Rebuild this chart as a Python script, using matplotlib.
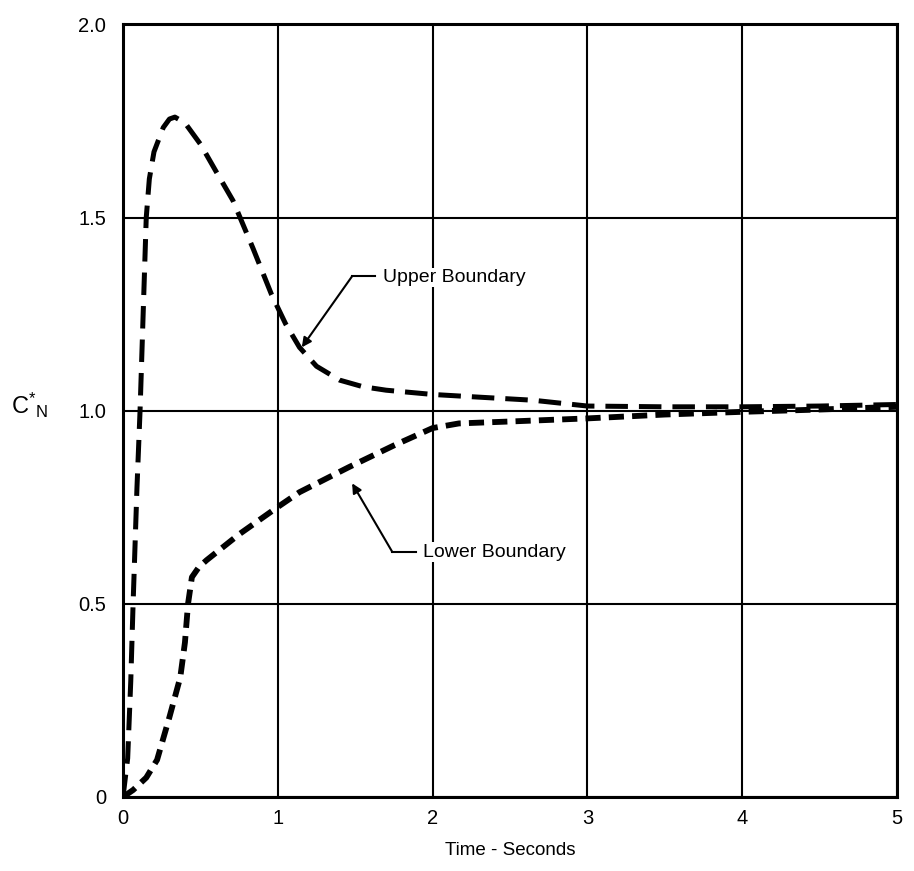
import matplotlib.pyplot as plt

plt.rcParams['font.family'] = ['Liberation Sans', 'DejaVu Sans']
plt.rcParams['mathtext.fontset'] = 'custom'
plt.rcParams['mathtext.rm'] = 'Liberation Sans'

# values
upper_t = [0, 0.03, 0.05, 0.065, 0.09, 0.11, 0.13, 0.15, 0.17, 0.2, 0.26, 0.3, 0.335,
           0.4, 0.5, 0.6, 0.71, 0.84, 0.96, 1.05, 1.14, 1.25, 1.4, 1.55, 1.7, 2.0, 2.3,
           2.65, 3.0, 3.5, 4.0, 4.5, 5.0]
upper_c = [0, 0.1, 0.3, 0.5, 0.8, 1.0, 1.25, 1.5, 1.6, 1.67, 1.733, 1.755, 1.76,
           1.745, 1.69, 1.62, 1.544, 1.42, 1.30, 1.225, 1.164, 1.115, 1.079, 1.062, 1.053,
           1.042, 1.035, 1.027, 1.012, 1.01, 1.01, 1.012, 1.016]

lower_t = [0, 0.065, 0.15, 0.22, 0.30, 0.37, 0.40, 0.42, 0.445, 0.49, 0.54, 0.75, 0.99,
           1.14, 1.46, 1.75, 2.0, 2.17, 2.5, 3.0, 3.5, 4.0, 4.5, 5.0]
lower_c = [0, 0.018, 0.05, 0.096, 0.207, 0.31, 0.40, 0.5, 0.569, 0.595, 0.613, 0.68, 0.748,
           0.789, 0.854, 0.91, 0.955, 0.967, 0.972, 0.98, 0.99, 0.997, 1.003, 1.01]

x_ticks = [0, 1, 2, 3, 4, 5]
x_labels = ['0', '1', '2', '3', '4', '5']
y_ticks = [0, 0.5, 1.0, 1.5, 2.0]
y_labels = ['0', '0.5', '1.0', '1.5', '2.0']

fig = plt.figure(figsize=(9.14, 8.71), dpi=100)
ax = fig.add_axes([0.1346, 0.085, 0.8468, 0.887])

ax.plot(upper_t, upper_c, color='black', lw=3.6, linestyle=(0, (4.5, 2.2)),
        dash_capstyle='butt')
ax.plot(lower_t, lower_c, color='black', lw=4.2, linestyle=(0, (2.6, 1.4)),
        dash_capstyle='butt')

ax.set_xlim(0, 5)
ax.set_ylim(0, 2)
ax.set_xticks(x_ticks)
ax.set_xticklabels(x_labels)
ax.set_yticks(y_ticks)
ax.set_yticklabels(y_labels)
ax.tick_params(length=0, labelsize=14.5, pad=9)
ax.tick_params(axis='y', pad=12)
ax.grid(True, color='black', lw=1.5)
ax.set_axisbelow(True)
for s in ax.spines.values():
    s.set_linewidth(2.2)

ax.set_xlabel('Time - Seconds', fontsize=13.5, labelpad=10)
fig.text(0.012, 0.535, r'$\mathregular{C^{*}{}_{N}}$', fontsize=17, va='center', ha='left')

arrow = dict(arrowstyle='-|>', color='black', lw=1.5, mutation_scale=14,
             shrinkA=0, shrinkB=0)
ax.annotate('', xy=(1.155, 1.164), xytext=(1.48, 1.348), arrowprops=arrow)
ax.plot([1.48, 1.63], [1.348, 1.348], color='black', lw=1.5)
ax.text(1.68, 1.345, 'Upper Boundary', fontsize=14, va='center', ha='left',
        bbox=dict(facecolor='white', edgecolor='none', pad=1))

ax.annotate('', xy=(1.48, 0.812), xytext=(1.74, 0.634), arrowprops=arrow)
ax.plot([1.74, 1.89], [0.634, 0.634], color='black', lw=1.5)
ax.text(1.935, 0.634, 'Lower Boundary', fontsize=14, va='center', ha='left',
        bbox=dict(facecolor='white', edgecolor='none', pad=1))

fig.savefig('out.png', dpi=100)
